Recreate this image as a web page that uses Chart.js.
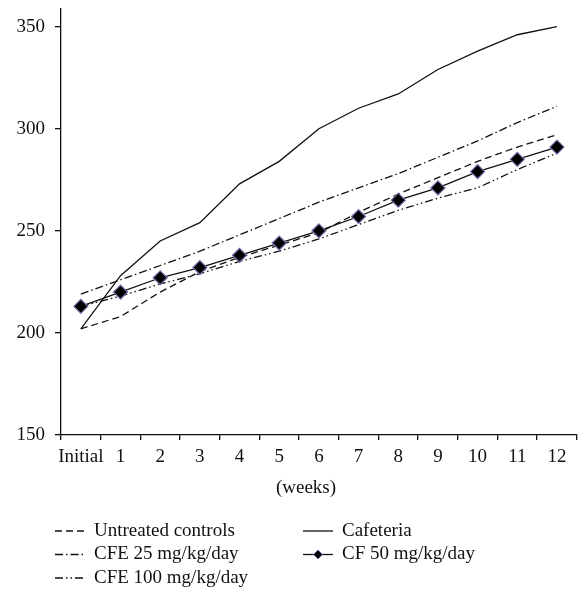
<!DOCTYPE html>
<html><head><meta charset="utf-8">
<script src="https://cdn.jsdelivr.net/npm/chart.js@4/dist/chart.umd.min.js"></script>
<style>html,body{margin:0;padding:0;background:#fff;}canvas{display:block;}</style>
</head><body>
<canvas id="c" width="585" height="590"></canvas>
<script>
// ---- data ----
const categories = ["Initial","1","2","3","4","5","6","7","8","9","10","11","12"];
const untreatedControls = [202,208,220,230,237,243,249,259,268,276,284,291,297];
const cafeteria        = [202,228,245,254,273,284,300,310,317,329,338,346,350];
const cfe25            = [219,226,233,240,248,256,264,271,278,286,294,303,311];
const cf50             = [213,220,227,232,238,244,250,257,265,271,279,285,291];
const cfe100           = [213,218,224,229,235,240,246,253,260,266,271,280,288];
const yTickValues = [150,200,250,300,350];
const xAxisTitle = "(weeks)";
const seriesNames = ["Untreated controls","Cafeteria","CFE 25 mg/kg/day","CF 50 mg/kg/day","CFE 100 mg/kg/day"];

const FONT = '"Liberation Serif", "Times New Roman", serif';

const legendPlugin = {
  id: 'customLegend',
  afterDraw(chart) {
    const ctx = chart.ctx;
    ctx.save();
    ctx.font = '19px ' + FONT;
    ctx.fillStyle = '#111';
    ctx.textBaseline = 'middle';
    // x-axis title
    ctx.textAlign = 'center';
    ctx.fillText(xAxisTitle, 306, 488);
    ctx.textAlign = 'left';
    const colX = [55, 303];
    chart.data.datasets.forEach((ds, i) => {
      const x = colX[i % 2];
      const y = 531 + Math.floor(i / 2) * 23.5;
      ctx.strokeStyle = ds.borderColor;
      ctx.lineWidth = ds.borderWidth;
      ctx.setLineDash(ds.borderDash || []);
      ctx.beginPath();
      ctx.moveTo(x, y);
      ctx.lineTo(x + 30, y);
      ctx.stroke();
      ctx.setLineDash([]);
      if (ds.pointRadius > 0) {
        const r = 4.5, cx = x + 15;
        ctx.beginPath();
        ctx.moveTo(cx, y - r); ctx.lineTo(cx + r, y); ctx.lineTo(cx, y + r); ctx.lineTo(cx - r, y); ctx.closePath();
        ctx.fillStyle = ds.pointBackgroundColor;
        ctx.fill();
        ctx.strokeStyle = ds.pointBorderColor;
        ctx.lineWidth = 1;
        ctx.stroke();
        ctx.fillStyle = '#111';
      }
      ctx.fillText(ds.label, x + 39, y);
    });
    ctx.restore();
  }
};

function lineDs(label, data, dash, extra) {
  return Object.assign({
    label, data,
    borderColor: '#111',
    borderWidth: 1.3,
    borderDash: dash,
    pointRadius: 0,
    pointHoverRadius: 0,
    fill: false,
    tension: 0,
    order: 1
  }, extra || {});
}

new Chart(document.getElementById('c'), {
  type: 'line',
  data: {
    labels: categories,
    datasets: [
      lineDs(seriesNames[0], untreatedControls, [7,4]),
      lineDs(seriesNames[1], cafeteria, []),
      lineDs(seriesNames[2], cfe25, [8,3,1.5,3]),
      lineDs(seriesNames[3], cf50, [], {
        pointRadius: 7, pointStyle: 'rectRot',
        pointBackgroundColor: '#000', pointBorderColor: '#7a68a8', pointBorderWidth: 1.2,
        order: 0
      }),
      lineDs(seriesNames[4], cfe100, [8,3,1.5,3,1.5,3])
    ]
  },
  options: {
    responsive: false,
    devicePixelRatio: 1,
    animation: false,
    events: [],
    layout: { padding: { top: 8, right: 1, bottom: 110, left: 0 } },
    plugins: { legend: { display: false }, tooltip: { enabled: false }, title: { display: false } },
    scales: {
      x: {
        type: 'category',
        offset: true,
        grid: { offset: true, drawOnChartArea: false, drawTicks: true, tickLength: 5, color: '#111', lineWidth: 1.3 },
        border: { display: true, color: '#111', width: 1.3 },
        ticks: { color: '#111', font: { family: FONT, size: 19 }, padding: 6, maxRotation: 0, autoSkip: false },
        afterFit(s) { s.height = 45; s.paddingLeft = 0; s.paddingRight = 0; }
      },
      y: {
        type: 'linear',
        min: 150,
        max: 359,
        grid: { drawOnChartArea: false, drawTicks: true, tickLength: 6, color: '#111', lineWidth: 1.3 },
        border: { display: true, color: '#111', width: 1.3 },
        ticks: { color: '#111', font: { family: FONT, size: 19 }, padding: 10, stepSize: 50, includeBounds: false },
        afterBuildTicks(s) { s.ticks = yTickValues.map(v => ({ value: v })); },
        afterFit(s) { s.width = 61; s.paddingTop = 0; s.paddingBottom = 0; }
      }
    }
  },
  plugins: [legendPlugin]
});
</script>
</body></html>
